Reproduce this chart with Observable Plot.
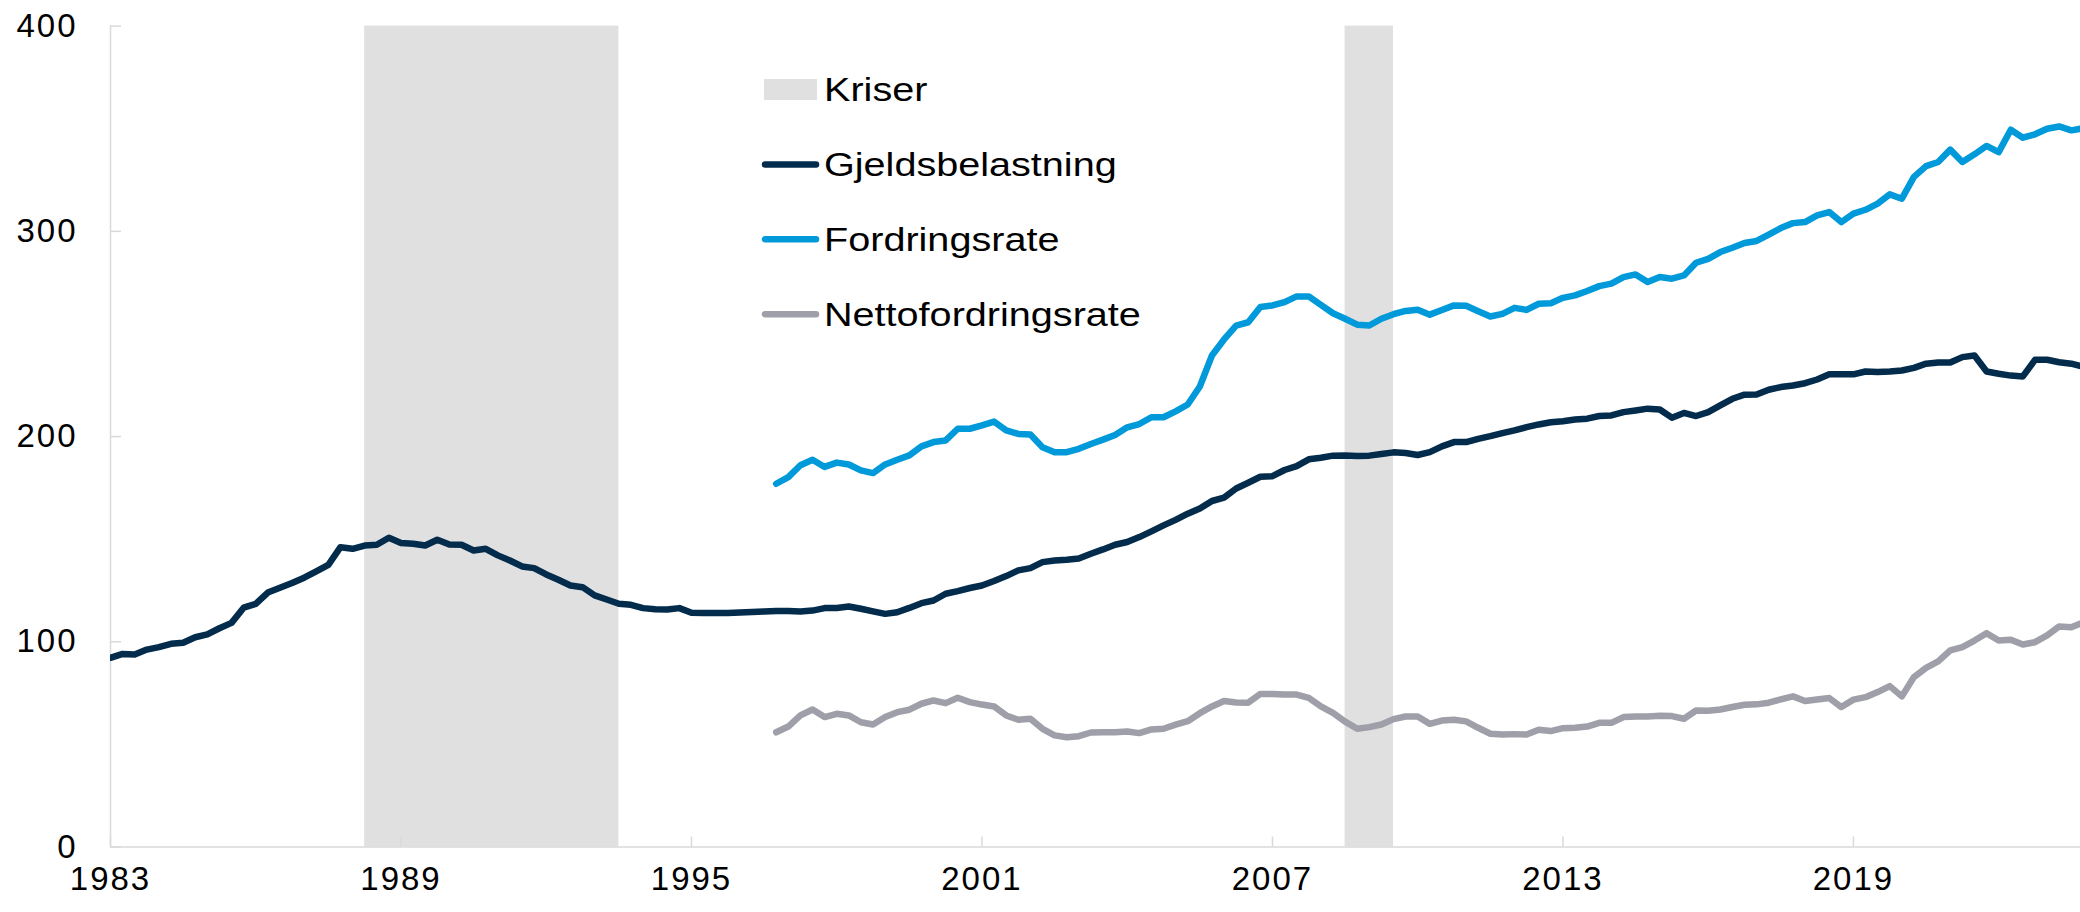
<!DOCTYPE html>
<html>
<head>
<meta charset="utf-8">
<script src="https://cdn.jsdelivr.net/npm/d3@7"></script>
<script src="https://cdn.jsdelivr.net/npm/@observablehq/plot@0.6"></script>
<style>
  html, body { margin: 0; padding: 0; background: #fff; }
  #wrap { position: relative; width: 2080px; height: 912px; overflow: hidden; }
  #wrap svg text { font-family: "Liberation Sans", Arial, sans-serif; }
  #wrap g[aria-label*="tick label"] text { letter-spacing: 2px; }
  #legend { position: absolute; left: 0; top: 0; }
</style>
</head>
<body>
<div id="wrap"></div>
<script>
// ---------- data ----------
const startYear = 1983;                 // first quarter of Gjeldsbelastning = 1983 Q1
const seriesNames = ["Gjeldsbelastning", "Fordringsrate", "Nettofordringsrate"];
const seriesColors = ["#022b4c", "#0099d9", "#9e9fa8"];
const seriesStartQuarter = [0, 55, 55]; // quarters after 1983 Q1
const crisisLabel = "Kriser";
const crisisColor = "#e0e0e0";
const crisisStart = [1988.25, 2008.5];
const crisisEnd = [1993.5, 2009.5];
const xTicks = [1983, 1989, 1995, 2001, 2007, 2013, 2019];
const yTicks = [0, 100, 200, 300, 400];

const gjeld = [
  92.2, 94.1, 93.8, 96.2, 97.4, 99.0, 99.5, 102.2, 103.6, 106.6,
  109.2, 116.6, 118.5, 124.0, 126.3, 128.6, 131.2, 134.3, 137.5, 146.1,
  145.3, 146.9, 147.3, 150.7, 148.1, 147.8, 146.9, 149.7, 147.4, 147.3,
  144.5, 145.3, 142.1, 139.6, 136.7, 135.9, 132.8, 130.2, 127.4, 126.6,
  122.6, 120.6, 118.5, 118.0, 116.4, 115.9, 115.7, 116.4, 114.1, 114.0,
  114.0, 114.0, 114.3, 114.5, 114.8, 115.0, 115.0, 114.8, 115.2, 116.4,
  116.5, 117.2, 116.1, 114.8, 113.6, 114.4, 116.5, 118.8, 120.1, 123.4,
  124.7, 126.2, 127.4, 129.6, 132.0, 134.8, 135.9, 138.8, 139.6, 140.0,
  140.6, 142.9, 145.0, 147.3, 148.6, 151.0, 153.8, 156.7, 159.4, 162.4,
  164.9, 168.6, 170.2, 174.7, 177.5, 180.4, 180.7, 183.7, 185.6, 188.9,
  189.7, 190.7, 190.8, 190.5, 190.7, 191.5, 192.3, 192.0, 191.0, 192.4,
  195.2, 197.3, 197.3, 198.9, 200.2, 201.7, 203.0, 204.6, 205.9, 207.0,
  207.5, 208.3, 208.7, 210.0, 210.3, 211.9, 212.7, 213.6, 213.2, 209.2,
  211.5, 210.0, 211.9, 215.2, 218.4, 220.4, 220.5, 222.8, 224.1, 224.9,
  226.0, 227.8, 230.3, 230.3, 230.3, 231.7, 231.4, 231.7, 232.2, 233.5,
  235.5, 236.1, 236.1, 238.7, 239.5, 231.7, 230.6, 229.7, 229.3, 237.4,
  237.4, 236.2, 235.5, 234.0
];

const fordring = [
  177.0, 180.2, 186.0, 188.7, 185.2, 187.3, 186.4, 183.5, 182.2, 186.4,
  188.7, 190.8, 195.2, 197.3, 198.1, 203.8, 203.8, 205.4, 207.3, 203.0,
  201.3, 201.0, 194.8, 192.4, 192.4, 194.0, 196.4, 198.5, 200.8, 204.5,
  206.1, 209.4, 209.4, 212.3, 215.6, 224.4, 239.5, 247.3, 254.1, 255.7,
  263.1, 263.9, 265.5, 268.3, 268.3, 264.2, 260.1, 257.4, 254.5, 254.1,
  257.4, 259.6, 261.2, 261.8, 259.4, 261.7, 263.9, 263.7, 261.1, 258.5,
  259.8, 262.7, 261.7, 264.7, 265.0, 267.6, 268.8, 270.9, 273.3, 274.5,
  277.7, 279.0, 275.3, 277.7, 276.9, 278.5, 284.7, 286.6, 289.9, 292.0,
  294.3, 295.3, 298.4, 301.6, 304.0, 304.5, 307.8, 309.4, 304.5, 308.6,
  310.5, 313.5, 318.0, 315.9, 326.5, 331.8, 333.8, 339.8, 333.8, 337.5,
  341.6, 338.6, 349.5, 345.6, 347.3, 350.0, 351.1, 349.2, 350.2
];

const netto = [
  55.9, 58.7, 64.1, 67.0, 63.3, 64.9, 64.1, 60.8, 59.7, 63.3,
  65.7, 66.9, 69.8, 71.4, 70.1, 72.7, 70.6, 69.4, 68.5, 64.1,
  62.0, 62.5, 57.6, 54.4, 53.5, 54.0, 55.8, 55.9, 55.9, 56.3,
  55.5, 57.3, 57.6, 59.6, 61.3, 65.2, 68.5, 71.1, 70.4, 70.3,
  74.6, 74.6, 74.3, 74.3, 72.7, 68.5, 65.4, 61.1, 57.6, 58.4,
  59.7, 62.3, 63.6, 63.6, 60.0, 61.6, 62.0, 61.2, 58.1, 55.2,
  54.8, 55.0, 54.8, 57.1, 56.5, 57.9, 58.1, 58.7, 60.5, 60.5,
  63.3, 63.6, 63.6, 63.9, 63.8, 62.5, 66.5, 66.4, 67.0, 68.2,
  69.3, 69.5, 70.3, 71.9, 73.4, 71.1, 71.9, 72.6, 68.2, 71.8,
  73.0, 75.5, 78.4, 73.4, 82.8, 87.3, 90.4, 95.8, 97.4, 100.6,
  104.2, 100.6, 101.0, 98.7, 99.8, 103.1, 107.5, 107.1, 109.5
];

// ---------- tables built from the arrays ----------
const seriesValues = [gjeld, fordring, netto];
const rows = [];
seriesValues.forEach((vals, s) => {
  vals.forEach((v, k) => rows.push({
    series: seriesNames[s],
    t: startYear + (seriesStartQuarter[s] + k) / 4,
    v
  }));
});
const crises = crisisStart.map((s, i) => ({start: s, end: crisisEnd[i]}));

const axisGray = "#d9d9d9";

const chart = Plot.plot({
  width: 2080,
  height: 912,
  marginLeft: 110,
  marginRight: 0,
  marginTop: 25.6,
  marginBottom: 65.5,
  style: {fontFamily: "'Liberation Sans', Arial, sans-serif", fontSize: "33px", color: "#000", background: "#fff", overflow: "visible"},
  x: {domain: [startYear, 2023.69]},
  y: {domain: [0, 400]},
  color: {domain: seriesNames, range: seriesColors},
  marks: [
    Plot.rect(crises, {x1: "start", x2: "end", fill: crisisColor}),
    Plot.ruleX([startYear], {stroke: axisGray, strokeWidth: 1.5}),
    Plot.ruleY([0], {stroke: axisGray, strokeWidth: 1.5}),
    Plot.axisY({ticks: yTicks, tickSize: -11, tickFormat: () => "", stroke: axisGray, strokeWidth: 1.5, label: null}),
    Plot.axisY({ticks: yTicks, tickSize: 0, tickPadding: 33, tickFormat: d3.format("d"), label: null, fill: "#000"}),
    Plot.axisX({ticks: xTicks, tickSize: -10, tickFormat: () => "", stroke: axisGray, strokeWidth: 1.5, label: null}),
    Plot.axisX({ticks: xTicks, tickSize: 0, tickPadding: 20, tickFormat: d3.format("d"), label: null, fill: "#000"}),
    Plot.line(rows, {x: "t", y: "v", z: "series", stroke: "series", strokeWidth: 6.5,
      strokeLinejoin: "round", strokeLinecap: "round", clip: true})
  ]
});
document.getElementById("wrap").appendChild(chart);

// ---------- legend (inside the plot area, top centre) ----------
const legendItems = [{label: crisisLabel, kind: "rect", color: crisisColor}]
  .concat(seriesNames.map((n, i) => ({label: n, kind: "line", color: seriesColors[i]})));
const lg = d3.select("#wrap").append("svg")
  .attr("id", "legend").attr("width", 2080).attr("height", 912);
const lgX = 762, lgTop = 89.5, lgStep = 74.9, fs = 33;
legendItems.forEach((d, i) => {
  const cy = lgTop + i * lgStep;
  if (d.kind === "rect") {
    lg.append("rect").attr("x", lgX + 2).attr("y", cy - 10.5).attr("width", 53).attr("height", 21).attr("fill", d.color);
  } else {
    lg.append("line").attr("x1", lgX + 3).attr("x2", lgX + 54).attr("y1", cy).attr("y2", cy)
      .attr("stroke", d.color).attr("stroke-width", 6.5).attr("stroke-linecap", "round");
  }
  lg.append("text")
    .attr("transform", `translate(${lgX + 62},${cy + 0.358 * fs}) scale(1.2,1)`)
    .attr("font-size", fs)
    .attr("fill", "#000")
    .text(d.label);
});
</script>
</body>
</html>
